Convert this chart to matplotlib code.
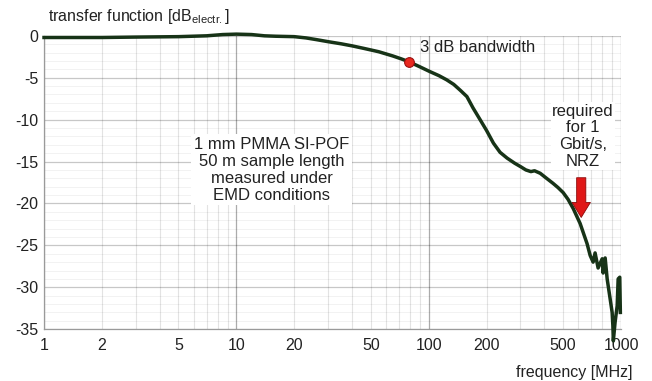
import numpy as np
import matplotlib
matplotlib.use('Agg')
import matplotlib.pyplot as plt

plt.rcParams['font.family'] = ['Liberation Sans', 'DejaVu Sans']

freq = [1, 2, 3, 5, 7, 8.5, 10, 12, 14, 16, 20, 23, 26, 30, 35, 40, 46, 55, 65, 72,
        79, 90, 101, 113, 124, 135, 146, 158, 170, 185, 200, 217, 235, 256, 280,
        300, 320, 340, 355, 380, 410, 443, 470, 500, 530, 564, 613, 666, 691, 716,
        733, 760, 798, 807, 827, 847, 878, 899, 907, 912, 931, 955, 966, 985, 992]
db = [-0.2, -0.2, -0.15, -0.1, 0.0, 0.15, 0.2, 0.15, 0.0, -0.05, -0.1, -0.25,
      -0.45, -0.7, -0.95, -1.2, -1.5, -1.9, -2.4, -2.75, -3.1, -3.7, -4.25, -4.75,
      -5.25, -5.8, -6.5, -7.25, -8.6, -10.0, -11.3, -12.8, -13.9, -14.6, -15.2,
      -15.6, -16.0, -16.2, -16.1, -16.4, -17.0, -17.6, -18.1, -18.7, -19.5, -20.6,
      -22.4, -24.8, -26.2, -27.0, -25.9, -27.7, -26.6, -28.3, -26.5, -29.0, -31.4,
      -33.0, -34.6, -36.4, -34.2, -32.2, -29.0, -28.8, -33.0]

bw_freq = 79
bw_db = -3.1
nrz_freq = 621
nrz_db = -22.0

xtick_vals = [1, 2, 5, 10, 20, 50, 100, 200, 500, 1000]
ytick_vals = [0, -5, -10, -15, -20, -25, -30, -35]

fig = plt.figure(figsize=(6.52, 3.81), dpi=100)
ax = fig.add_axes([0.0675, 0.136, 0.885, 0.770])

ax.set_xscale('log')
ax.set_xlim(1, 1000)
ax.set_ylim(-35, 0)

# grid
decades = [1, 10, 100, 1000]
minors = [m * d for d in [1, 10, 100] for m in range(2, 10)]
ax.set_xticks(decades)
ax.set_xticks(minors, minor=True)
ax.set_xticklabels([str(v) for v in decades])
ax.set_xticklabels([str(v) if v in xtick_vals else '' for v in minors], minor=True)
ax.set_yticks(ytick_vals)
ax.set_yticks([v for v in range(-35, 1) if v % 5 != 0], minor=True)
ax.set_yticklabels([str(v) for v in ytick_vals])

ax.tick_params(which='both', length=0, labelsize=11.5, colors='#222222')
ax.tick_params(axis='x', which='both', pad=6)
ax.tick_params(axis='y', pad=4)

# semi-transparent grid so crossing lines don't hide each other
ax.grid(True, which='major', axis='x', color='black', alpha=0.33, lw=0.9)
ax.grid(True, which='minor', axis='x', color='black', alpha=0.11, lw=0.8)
ax.grid(True, which='major', axis='y', color='black', alpha=0.22, lw=0.9)
ax.grid(True, which='minor', axis='y', color='black', alpha=0.05, lw=0.7)
ax.set_axisbelow(True)

for s in ['top', 'right']:
    ax.spines[s].set_visible(False)
for s in ['left', 'bottom']:
    ax.spines[s].set_color('#9a9a9a')
    ax.spines[s].set_linewidth(0.9)

ax.plot(freq, db, color='#173317', lw=2.5, clip_on=False, zorder=3)
ax.plot([bw_freq], [bw_db], 'o', ms=7, mfc='#e8281e', mec='#9a1010', mew=0.8, zorder=4)

ax.text(90, -1.45, '3 dB bandwidth', fontsize=12, ha='left', va='center', color='#222222')
ax.text(15.3, -16.0, '1 mm PMMA SI-POF\n50 m sample length\nmeasured under\nEMD conditions',
        fontsize=12, ha='center', va='center', multialignment='center', color='#222222',
        linespacing=1.15, bbox=dict(fc='white', ec='none', pad=2))
ax.text(635, -12.0, 'required\nfor 1\nGbit/s,\nNRZ', fontsize=12, ha='center', va='center',
        multialignment='center', color='#222222', linespacing=1.15,
        bbox=dict(fc='white', ec='none', pad=1))
ax.annotate('', xy=(nrz_freq, nrz_db), xytext=(nrz_freq, -16.6),
            arrowprops=dict(arrowstyle='simple,head_length=0.9,head_width=1.1,tail_width=0.55',
                            fc='#e01818', ec='#8a0a0a', lw=0.6, mutation_scale=12), zorder=5)

fig.text(48 / 652, 1 - 17 / 381, r'transfer function [dB$_{\mathregular{electr.}}$]',
         fontsize=11.5, ha='left', va='center', color='#222222')
fig.text(632 / 652, 1 - 372 / 381, 'frequency [MHz]', fontsize=11.5, ha='right',
         va='center', color='#222222')

fig.savefig('out.png', dpi=100, facecolor='white')
